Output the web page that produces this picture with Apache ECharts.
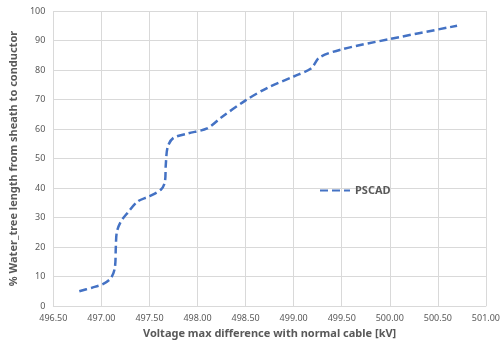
<!DOCTYPE html>
<html>
<head>
<meta charset="utf-8">
<script src="https://cdn.jsdelivr.net/npm/echarts@6/dist/echarts.min.js"></script>
<style>
  html, body { margin: 0; padding: 0; background: #fff; }
  #chart { width: 503px; height: 344px; }
</style>
</head>
<body>
<div id="chart"></div>
<script>
const seriesName = 'PSCAD';
// [voltage max difference kV, % water tree length]
const voltageKv = [496.77, 496.90, 497.02, 497.10, 497.14, 497.15, 497.16, 497.20, 497.27, 497.38, 497.50, 497.62, 497.66, 497.67, 497.69, 497.75, 497.90, 498.10, 498.25, 498.50, 498.73, 499.00, 499.18, 499.27, 499.50, 500.00, 500.70];
const waterTreePct = [5, 6.2, 7.5, 9.5, 13, 20, 25, 28.5, 31.5, 35.5, 37.2, 39.5, 42, 48, 54, 57, 58.5, 60.2, 64, 69.7, 74, 77.8, 80.5, 84.3, 87, 90.5, 95];

const chart = echarts.init(document.getElementById('chart'));
const gray = '#595959';
const gridColor = '#d9d9d9';

const options = {
    animation: false,
    textStyle: { fontFamily: 'Noto Sans' },
    grid: { left: 46, right: 12, top: 11, bottom: 37 },
    legend: {
        data: [seriesName],
        left: 314,
        top: 180,
        itemWidth: 30,
        itemHeight: 14,
        itemGap: 4,
        itemStyle: { opacity: 0 },
        textStyle: { color: gray, fontSize: 11, fontWeight: 'bold' }
    },
    xAxis: {
        type: 'value',
        min: 496.5,
        max: 501,
        interval: 0.5,
        name: 'Voltage max difference with normal cable [kV]',
        nameLocation: 'middle',
        nameGap: 22,
        nameTextStyle: { color: gray, fontSize: 11, fontWeight: 'bold' },
        axisLine: { show: true, lineStyle: { color: gridColor } },
        axisTick: { show: false },
        axisLabel: { color: gray, fontSize: 9, formatter: (v) => v.toFixed(2) },
        splitLine: { show: true, lineStyle: { color: gridColor } }
    },
    yAxis: {
        type: 'value',
        min: 0,
        max: 100,
        interval: 10,
        name: '% Water_tree length from sheath to conductor',
        nameLocation: 'middle',
        nameGap: 30,
        nameTextStyle: { color: gray, fontSize: 11, fontWeight: 'bold' },
        axisLine: { show: false },
        axisTick: { show: false },
        axisLabel: { color: gray, fontSize: 9 },
        splitLine: { show: true, lineStyle: { color: gridColor } }
    },
    series: [{
        name: seriesName,
        type: 'line',
        smooth: 0.3,
        symbol: 'none',
        data: voltageKv.map((v, i) => [v, waterTreePct[i]]),
        lineStyle: { color: '#4472C4', width: 2.5, type: [8, 4] },
        itemStyle: { color: '#4472C4' }
    }]
};
chart.setOption(options);
</script>
</body>
</html>
